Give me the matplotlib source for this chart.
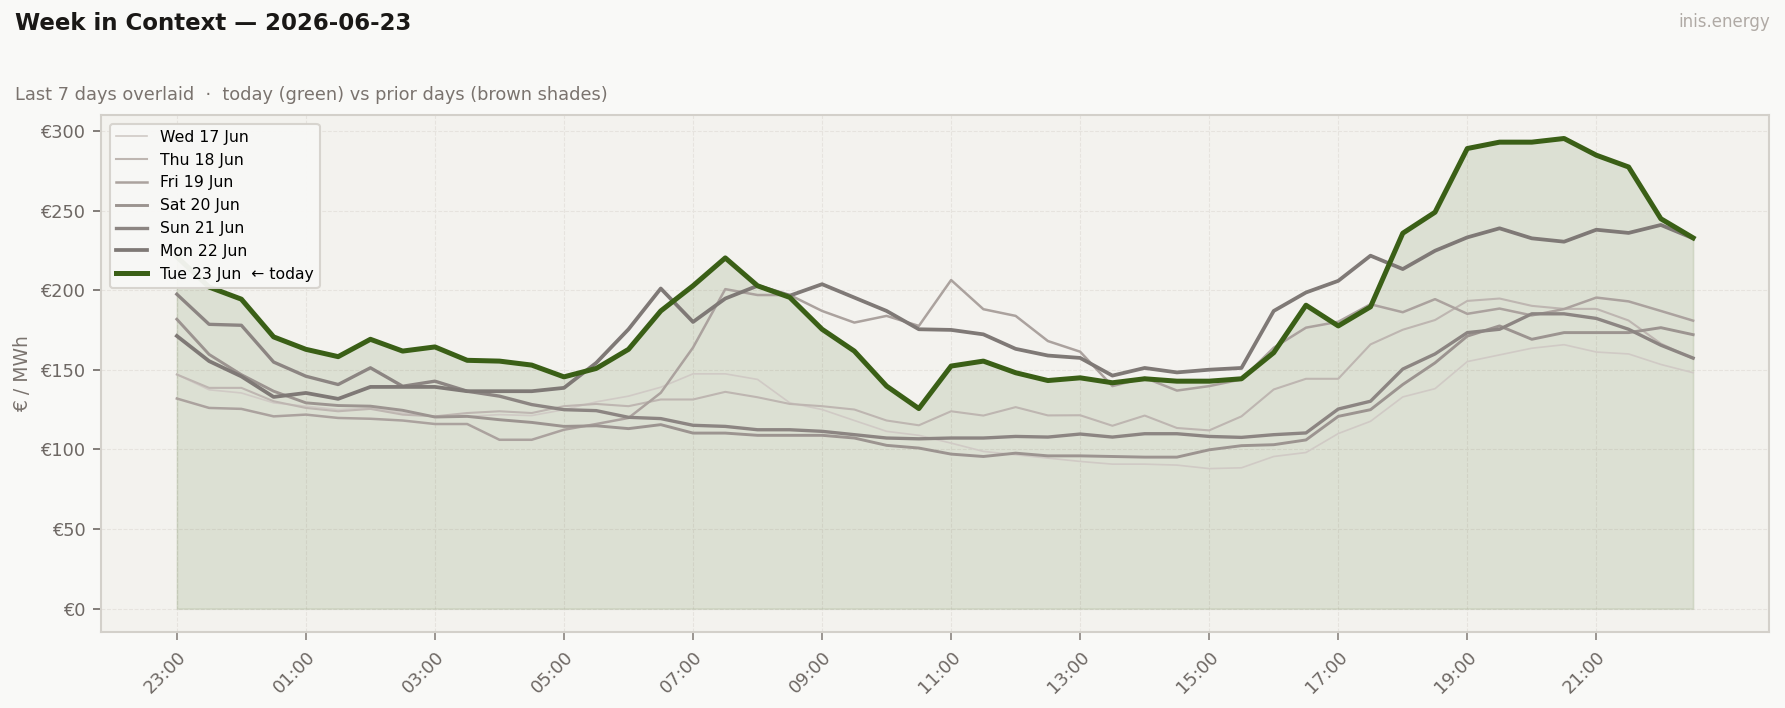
import numpy as np
import pandas as pd
import matplotlib
matplotlib.use("Agg")
import matplotlib.pyplot as plt

# ---------------- data: half-hour prices, 23:00 -> 22:30 ----------------
times = pd.date_range("2026-06-22 23:00", periods=48, freq="30min")
tick_labels = ["23:00", "01:00", "03:00", "05:00", "07:00", "09:00",
               "11:00", "13:00", "15:00", "17:00", "19:00", "21:00"]

wed = [147.1, 137.5, 135.5, 129.3, 127.2, 125.1, 126.1, 123.0, 120.8, 120.8, 121.9, 121.3,
       125.0, 129.9, 133.5, 139.1, 147.5, 147.5, 144.0, 129.3, 125.1, 118.2, 111.4, 108.9,
       104.0, 98.8, 96.7, 94.6, 92.5, 90.8, 90.8, 90.2, 88.0, 88.5, 95.6, 98.1,
       110.0, 117.7, 133.0, 138.2, 155.2, 159.4, 163.6, 165.8, 161.2, 160.0, 153.4, 148.2]
thu = [147.1, 138.7, 138.7, 130.3, 126.1, 124.0, 125.5, 121.9, 120.8, 122.9, 124.0, 122.9,
       127.2, 128.6, 127.2, 131.4, 131.4, 136.2, 132.8, 128.6, 127.2, 125.1, 118.2, 115.2,
       124.0, 121.3, 126.6, 121.4, 121.5, 114.9, 121.3, 113.5, 112.0, 120.8, 137.7, 144.4,
       144.4, 166.0, 175.2, 181.3, 193.3, 194.8, 190.2, 188.3, 188.3, 181.0, 166.5, 157.0]
fri = [132.0, 126.1, 125.5, 120.8, 121.9, 119.8, 119.3, 118.2, 116.0, 116.0, 106.1, 106.1,
       112.4, 116.0, 119.8, 135.6, 164.0, 200.7, 197.0, 197.0, 187.0, 179.7, 183.9, 177.6,
       206.4, 188.1, 183.9, 168.1, 161.4, 139.8, 145.0, 137.0, 139.8, 144.0, 163.9, 176.5,
       180.2, 191.2, 186.2, 194.4, 185.2, 188.5, 184.2, 188.2, 195.4, 193.0, 187.0, 180.9]
sat = [181.8, 159.7, 147.0, 136.6, 129.3, 127.6, 127.2, 124.6, 120.4, 120.8, 118.7, 117.0,
       114.5, 114.9, 113.1, 115.6, 110.3, 110.3, 108.9, 108.9, 108.9, 107.2, 102.6, 100.9,
       97.1, 95.6, 97.7, 96.0, 96.0, 95.6, 95.2, 95.2, 99.8, 102.4, 103.0, 106.0,
       120.8, 125.0, 140.8, 154.4, 171.2, 177.6, 169.2, 173.4, 173.4, 173.4, 176.5, 172.1]
sun = [197.5, 178.6, 178.0, 154.9, 146.0, 140.8, 151.3, 139.7, 142.9, 136.6, 133.5, 128.2,
       125.0, 124.4, 120.2, 119.4, 115.2, 114.5, 112.4, 112.4, 111.4, 109.3, 107.2, 106.7,
       107.2, 107.2, 108.2, 107.8, 109.7, 107.8, 109.9, 109.9, 108.2, 107.6, 109.3, 110.4,
       125.4, 130.3, 150.5, 160.0, 173.4, 175.5, 185.2, 185.2, 182.3, 175.5, 165.5, 157.4]
mon = [171.3, 155.5, 145.9, 133.0, 135.5, 131.8, 139.3, 139.3, 139.3, 136.6, 136.6, 136.6,
       138.7, 154.4, 175.5, 201.1, 180.1, 194.8, 202.8, 196.6, 203.8, 195.4, 187.0, 175.5,
       175.1, 172.3, 163.2, 159.0, 157.5, 146.4, 151.2, 148.4, 150.1, 151.2, 187.0, 198.6,
       205.9, 221.7, 213.3, 224.8, 233.2, 238.9, 232.6, 230.5, 238.0, 236.0, 241.0, 232.6]
tue = [221.0, 202.0, 194.4, 170.7, 162.9, 158.3, 169.2, 161.8, 164.4, 156.0, 155.5, 153.0,
       145.6, 150.9, 162.9, 187.0, 202.8, 220.3, 202.8, 195.5, 175.5, 161.8, 139.8, 125.7,
       152.4, 155.5, 148.2, 143.3, 145.0, 141.9, 144.4, 142.9, 142.9, 144.4, 160.8, 190.6,
       177.6, 189.6, 235.8, 249.0, 289.0, 293.0, 293.0, 295.3, 284.8, 277.4, 244.9, 232.9]

prior = [("Wed 17 Jun", wed), ("Thu 18 Jun", thu), ("Fri 19 Jun", fri),
         ("Sat 20 Jun", sat), ("Sun 21 Jun", sun), ("Mon 22 Jun", mon)]
prior_colors = ["#d0cac5", "#beb6b1", "#aba29e", "#9c9490", "#8c8582", "#7f7976"]
prior_widths = [0.8, 1.0, 1.2, 1.4, 1.6, 1.8]
green = "#3a5f16"

# ---------------- figure ----------------
fig = plt.figure(figsize=(11.9, 4.72), dpi=150, facecolor="#f9f9f7")
ax = fig.add_axes([0.0566, 0.107, 0.9344, 0.7306])
ax.set_facecolor("#f3f2ee")

x = np.arange(len(times))

ax.fill_between(x, 0, tue, color=green, alpha=0.12, linewidth=0.8)
for (label, vals), c, lw in zip(prior, prior_colors, prior_widths):
    ax.plot(x, vals, color=c, lw=lw, label=label)
ax.plot(x, tue, color=green, lw=2.4, label="Tue 23 Jun  \u2190 today")

ax.set_xticks(x[::4])
ax.set_xticklabels(tick_labels, rotation=45, ha="right", rotation_mode="anchor")
ax.set_yticks(np.arange(0, 301, 50))
ax.set_yticklabels([f"\u20ac{v}" for v in range(0, 301, 50)])
ax.tick_params(colors="#6e6864", labelsize=8.5, length=4, width=0.8)
ax.tick_params(axis="x", colors="#8a8480", labelcolor="#6e6864")
ax.set_ylabel("\u20ac / MWh", color="#7a736e", fontsize=9)

ax.grid(True, linestyle="--", color="#e6e3de", linewidth=0.5)
ax.set_axisbelow(True)
for s in ax.spines.values():
    s.set_color("#d3d0ca")
    s.set_linewidth(1.0)

leg = ax.legend(loc="upper left", fontsize=7.5, frameon=True, facecolor="#f8f8f6",
                edgecolor="#d6d3cd", framealpha=0.95, borderaxespad=0.55,
                handlelength=2.0, labelspacing=0.5)
leg.get_frame().set_linewidth(1.0)

fig.text(0.0084, 0.983, "Week in Context \u2014 2026-06-23", fontsize=11,
         fontweight="bold", color="#1a1816", va="top", ha="left")
fig.text(0.0084, 0.878, "Last 7 days overlaid  \u00b7  today (green) vs prior days (brown shades)",
         fontsize=8.5, color="#7a736e", va="top", ha="left")
fig.text(0.9916, 0.982, "inis.energy", fontsize=8, color="#b0aaa5", va="top", ha="right")

fig.savefig("out.png", dpi=150, facecolor=fig.get_facecolor())
